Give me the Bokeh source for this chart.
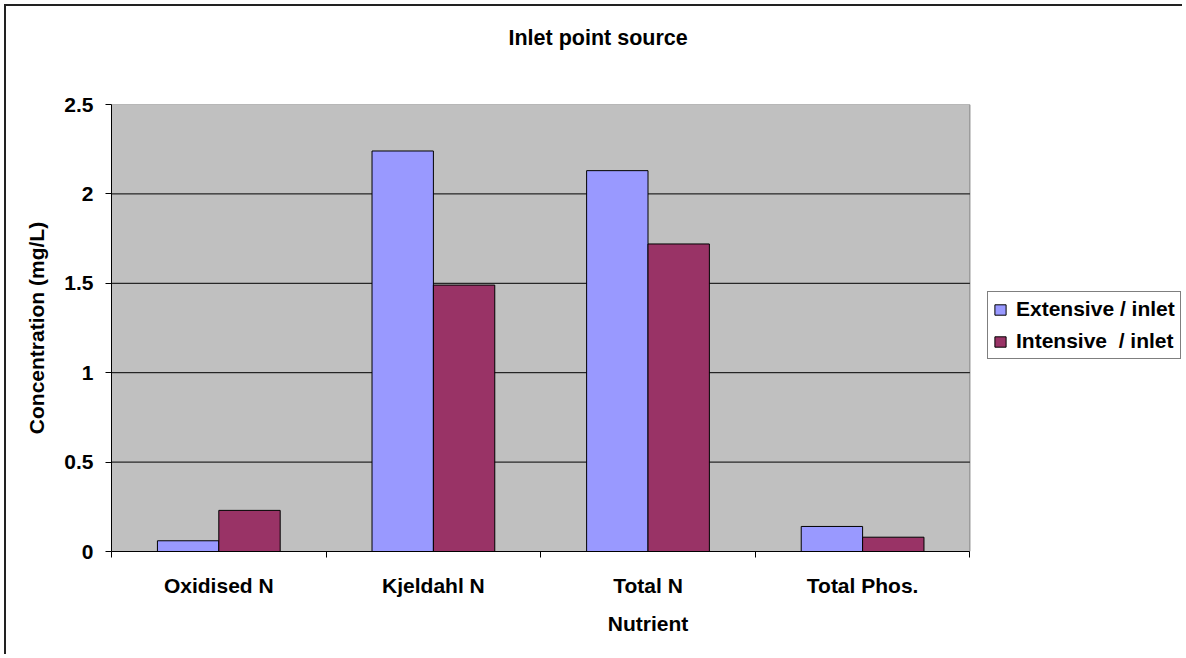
from bokeh.plotting import figure
from bokeh.models import (Range1d, FixedTicker, NumeralTickFormatter, Title,
                          Legend, LegendItem, ColumnDataSource)
from bokeh.transform import dodge
from bokeh.embed import file_html
from bokeh.resources import INLINE

categories = ["Oxidised N", "Kjeldahl N", "Total N", "Total Phos."]
extensive = [0.06, 2.24, 2.13, 0.14]
intensive = [0.23, 1.49, 1.72, 0.08]
series_names = ["Extensive / inlet", "Intensive  / inlet"]
y_ticks = [0, 0.5, 1, 1.5, 2, 2.5]
grid_ticks = [0.5, 1, 1.5, 2]

FONT = "Liberation Sans"
FS = "21px"

n = len(categories)
pos = [i + 0.5 for i in range(n)]
src = ColumnDataSource(dict(pos=pos, ext=extensive, inten=intensive))

# the frame also holds the legend area on the right; the plot area is x in [0, n]
p = figure(width=1178, height=650, output_backend="svg", toolbar_location=None,
           title=None,
           x_range=Range1d(0, 5.0), y_range=Range1d(0, 2.5),
           min_border_left=105, min_border_right=0, min_border_top=98, min_border_bottom=105)
p.styles = {"margin-left": "4px", "margin-top": "4px",
            "border-top": "2px solid #222", "border-left": "2px solid #222"}

p.border_fill_color = "white"
p.background_fill_color = "white"
p.outline_line_color = None

# grey plot area
p.quad(left=[0], right=[n], bottom=[y_ticks[0]], top=[y_ticks[-1]],
       fill_color="#C0C0C0", line_color="#808080", line_width=1)
# horizontal gridlines limited to the plot area
p.segment(x0=[0] * len(grid_ticks), x1=[n] * len(grid_ticks), y0=grid_ticks, y1=grid_ticks,
          line_color="black", line_width=1)

bw = 0.286
r1 = p.vbar(x=dodge("pos", -bw / 2, range=p.x_range), top="ext", width=bw, source=src,
            fill_color="#9999FF", line_color="black", line_width=1)
r2 = p.vbar(x=dodge("pos", bw / 2, range=p.x_range), top="inten", width=bw, source=src,
            fill_color="#993366", line_color="black", line_width=1)

# y axis
p.yaxis.ticker = FixedTicker(ticks=y_ticks)
p.yaxis.formatter = NumeralTickFormatter(format="0.[0]")
p.yaxis.major_tick_out = 6
p.yaxis.major_tick_in = 0
p.yaxis.minor_tick_line_color = None
p.yaxis.axis_line_color = "black"
p.yaxis.major_tick_line_color = "black"
p.yaxis.major_label_standoff = 12
p.yaxis.axis_label = "Concentration (mg/L)"
p.yaxis.axis_label_standoff = 13

# x axis: labels at category centres, tick marks at category boundaries
p.xaxis.bounds = (0, n)
p.xaxis.ticker = FixedTicker(ticks=pos, minor_ticks=list(range(n + 1)))
p.xaxis.major_label_overrides = {pp: c for pp, c in zip(pos, categories)}
p.xaxis.major_tick_line_color = None
p.xaxis.major_tick_out = 6
p.xaxis.minor_tick_out = 6
p.xaxis.minor_tick_in = 0
p.xaxis.minor_tick_line_color = "black"
p.xaxis.axis_line_color = "black"
p.xaxis.major_label_standoff = 16
p.xaxis.axis_label = "Nutrient"
p.xaxis.axis_label_standoff = 12

for ax in (p.xaxis, p.yaxis):
    ax.major_label_text_font = FONT
    ax.major_label_text_font_size = FS
    ax.major_label_text_font_style = "bold"
    ax.major_label_text_color = "black"
    ax.axis_label_text_font = FONT
    ax.axis_label_text_font_size = FS
    ax.axis_label_text_font_style = "bold"
    ax.axis_label_text_color = "black"

p.xgrid.grid_line_color = None
p.ygrid.grid_line_color = None

# spacer between frame and title, then the title itself
p.add_layout(Title(text=" ", text_font_size="10px", standoff=37), "above")
p.add_layout(Title(text="Inlet point source", align="left", offset=397,
                   text_font=FONT, text_font_size="21.5px", text_font_style="bold",
                   text_color="black", standoff=10), "above")

lg = Legend(items=[LegendItem(label=series_names[0], renderers=[r1]),
                   LegendItem(label=series_names[1], renderers=[r2])])
lg.location = (876, 192)
lg.label_text_font = FONT
lg.label_text_font_size = FS
lg.label_text_font_style = "bold"
lg.label_text_color = "black"
lg.glyph_width = 14
lg.glyph_height = 13
lg.label_standoff = 9
lg.padding = 5
lg.spacing = 8
lg.margin = 0
lg.border_line_color = "black"
lg.border_line_width = 1
lg.background_fill_color = "white"
lg.background_fill_alpha = 1
p.add_layout(lg, "center")

open("out.html", "w").write(file_html(p, INLINE))
